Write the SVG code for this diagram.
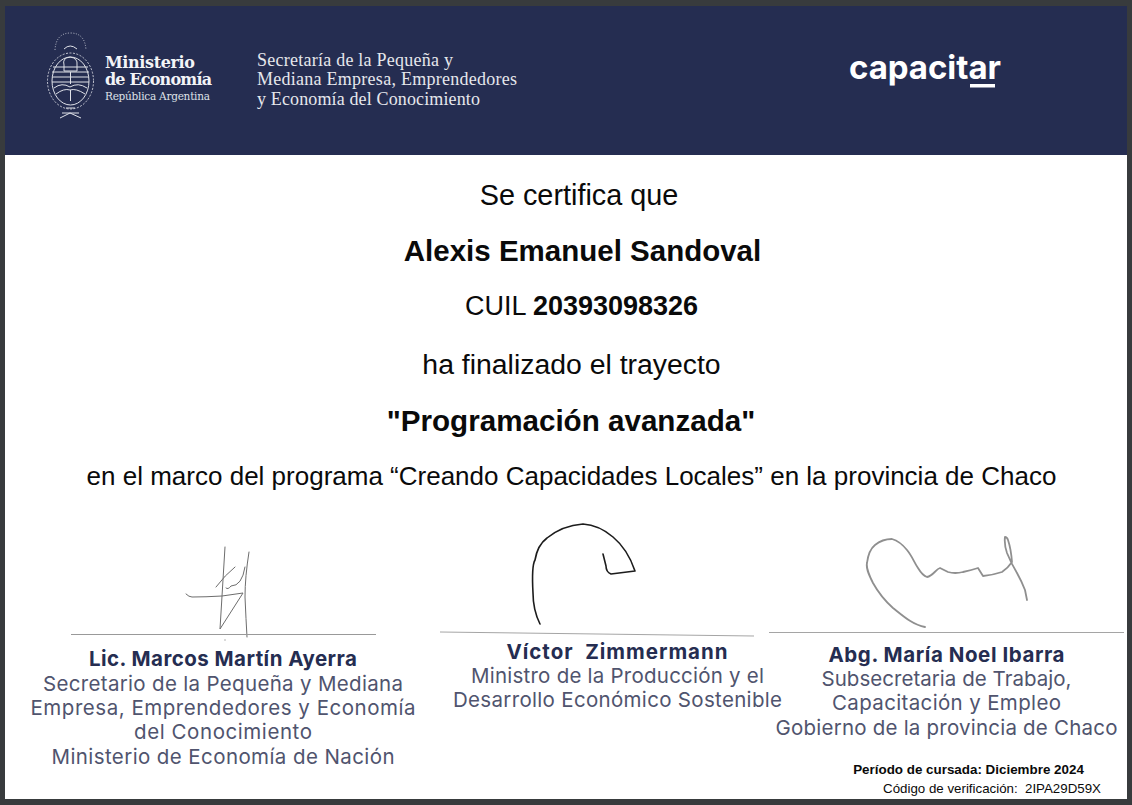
<svg xmlns="http://www.w3.org/2000/svg" width="1132" height="805" viewBox="0 0 1132 805">
<style>
.a{font-family:"Liberation Sans",Arial,sans-serif;fill:#0a0a0a;text-anchor:middle}
.b{font-weight:700}
.s{font-family:"Liberation Serif","DejaVu Serif",serif;fill:#e6e7ec;font-size:18px}
.n{font-family:Inter,"Open Sans",sans-serif;font-weight:700;fill:#252d51;font-size:20.5px;text-anchor:middle}
.r{font-family:Inter,"Open Sans",sans-serif;fill:#50546e;font-size:20.5px;text-anchor:middle}
.l{fill:none;stroke:#dfe1e8;stroke-width:1}
.sig{fill:none;stroke-linecap:round;stroke-linejoin:round}
</style>
<rect width="1132" height="805" fill="#383b3d"/>
<rect x="5" y="6" width="1122" height="793" fill="#fff"/>
<rect x="5" y="6" width="1122" height="149" fill="#252d51"/>
<g id="crest">
<path class="l" d="M55 50Q56 33 70.500 33Q85 33 86 50" stroke-width="7" stroke-dasharray="1 1.600" opacity=".8"/>
<ellipse class="l" cx="70.500" cy="81" rx="23" ry="28" stroke-width="5" stroke-dasharray="2 1.500" opacity=".85"/>
<ellipse class="l" cx="70.500" cy="81" rx="18.500" ry="24"/>
<path class="l" d="M53 67H88M52 72H89M52 77H89M52 82H89M54 88Q62 82 70 87Q78 82 87 88M56 94Q64 88 70 90Q76 88 85 94M70.500 72V84M70.500 90V101M64 65Q62 58 70 57Q78 58 77 65L77 71H64Z"/>
<path class="l" d="M64 49Q70 43 77 49M62 113H79M60 118L70 113L81 118M66 108H75"/>
</g>
<g id="header-text">
<text x="105" y="68" font-family="DejaVu Serif,serif" font-weight="700" font-size="16" fill="#f3f4f7" textLength="90">Ministerio</text>
<text x="105" y="85" font-family="DejaVu Serif,serif" font-weight="700" font-size="16" fill="#f3f4f7" textLength="107">de Economía</text>
<text x="105" y="100" font-family="DejaVu Serif,serif" font-size="10.500" fill="#dfe1e8" textLength="105">República Argentina</text>
<text class="s" x="257" y="66" textLength="196">Secretaría de la Pequeña y</text>
<text class="s" x="257" y="85" textLength="260">Mediana Empresa, Emprendedores</text>
<text class="s" x="257" y="105" textLength="223">y Economía del Conocimiento</text>
</g>
<g id="capacitar">
<text x="849" y="79" font-family="Inter,sans-serif" font-weight="700" font-size="33" fill="#fff" textLength="152">capacitar</text>
<rect x="970" y="84" width="25" height="3.500" fill="#fff"/>
</g>
<g id="body">
<text class="a" x="579" y="205" font-size="28.800">Se certifica que</text>
<text class="a b" x="582.500" y="261" font-size="29.500">Alexis Emanuel Sandoval</text>
<text class="a" x="581.500" y="315" font-size="27">CUIL <tspan class="b">20393098326</tspan></text>
<text class="a" x="571.500" y="374" font-size="28.400">ha finalizado el trayecto</text>
<text class="a b" x="571" y="431" font-size="29.600">"Programación avanzada"</text>
<text class="a" x="571.500" y="485" font-size="26">en el marco del programa “Creando Capacidades Locales” en la provincia de Chaco</text>
</g>
<g id="firma-1">
<g class="sig" stroke="#6d6d6d" stroke-width="1">
<path d="M186 594Q189 597 192 597Q205 597 222 596L243 593L220 629L225 547"/>
<path d="M249 552Q245 577 245 597Q246 620 247 637"/>
<path d="M216 587Q225 575 235 567M226 588Q228 590 231 586Q242 586 245 567"/>
</g>
<circle cx="225" cy="640" r=".7" fill="#999"/>
<line x1="71" y1="634.500" x2="376" y2="634.500" stroke="#999" stroke-width="1"/>
<text class="n" x="223" y="666" textLength="268">Lic. Marcos Martín Ayerra</text>
<text class="r" x="223" y="691" textLength="360">Secretario de la Pequeña y Mediana</text>
<text class="r" x="223" y="715" textLength="385">Empresa, Emprendedores y Economía</text>
<text class="r" x="223" y="739" textLength="178">del Conocimiento</text>
<text class="r" x="223" y="764" textLength="343">Ministerio de Economía de Nación</text>
</g>
<g id="firma-2">
<path class="sig" stroke="#1c1c1c" stroke-width="1.600" d="M540 624Q533 610 533 593C532 575 532 565 535 560C537 548 543 541 547 538C558 529 570 525 583 524C597 525 606 531 613 537C625 547 631 559 635 571L611 574Q606 572 606 566L603 554"/>
<line x1="440" y1="632" x2="754" y2="636" stroke="#a5a5a5" stroke-width="1"/>
<text class="n" x="617" y="659" textLength="221" xml:space="preserve">Víctor  Zimmermann</text>
<text class="r" x="617.500" y="683" textLength="293">Ministro de la Producción y el</text>
<text class="r" x="617.500" y="707" textLength="329">Desarrollo Económico Sostenible</text>
</g>
<g id="firma-3">
<path class="sig" stroke="#8f8f8f" stroke-width="1.800" d="M925 627C913 625 903 616 893 608C884 600 878 592 873 583C868 573 866 568 867 563C868 555 870 549 875 545C881 540 886 539 892 539C899 541 903 545 907 550C912 556 914 562 918 568C921 573 924 576 927 577C933 576 936 569 940 568L948 572Q955 574 963 572Q972 570 978 568L983 576Q993 575 1002 572Q1008 568 1012 562Q1011 549 1008 540Q1007 537 1005 537Q1004 544 1007 553Q1011 563 1017 573Q1022 582 1025 590L1027 600"/>
<line x1="769" y1="632.500" x2="1124" y2="632.500" stroke="#a5a5a5" stroke-width="1"/>
<text class="n" x="946.500" y="662" textLength="236">Abg. María Noel Ibarra</text>
<text class="r" x="946.500" y="686" textLength="250">Subsecretaria de Trabajo,</text>
<text class="r" x="946.500" y="710" textLength="229">Capacitación y Empleo</text>
<text class="r" x="946.500" y="735" textLength="342">Gobierno de la provincia de Chaco</text>
</g>
<g id="pie">
<text class="a b" x="968.500" y="774" font-size="13.400">Período de cursada: Diciembre 2024</text>
<text class="a" x="992" y="793" font-size="13.300" xml:space="preserve">Código de verificación:  2IPA29D59X</text>
</g>
</svg>
